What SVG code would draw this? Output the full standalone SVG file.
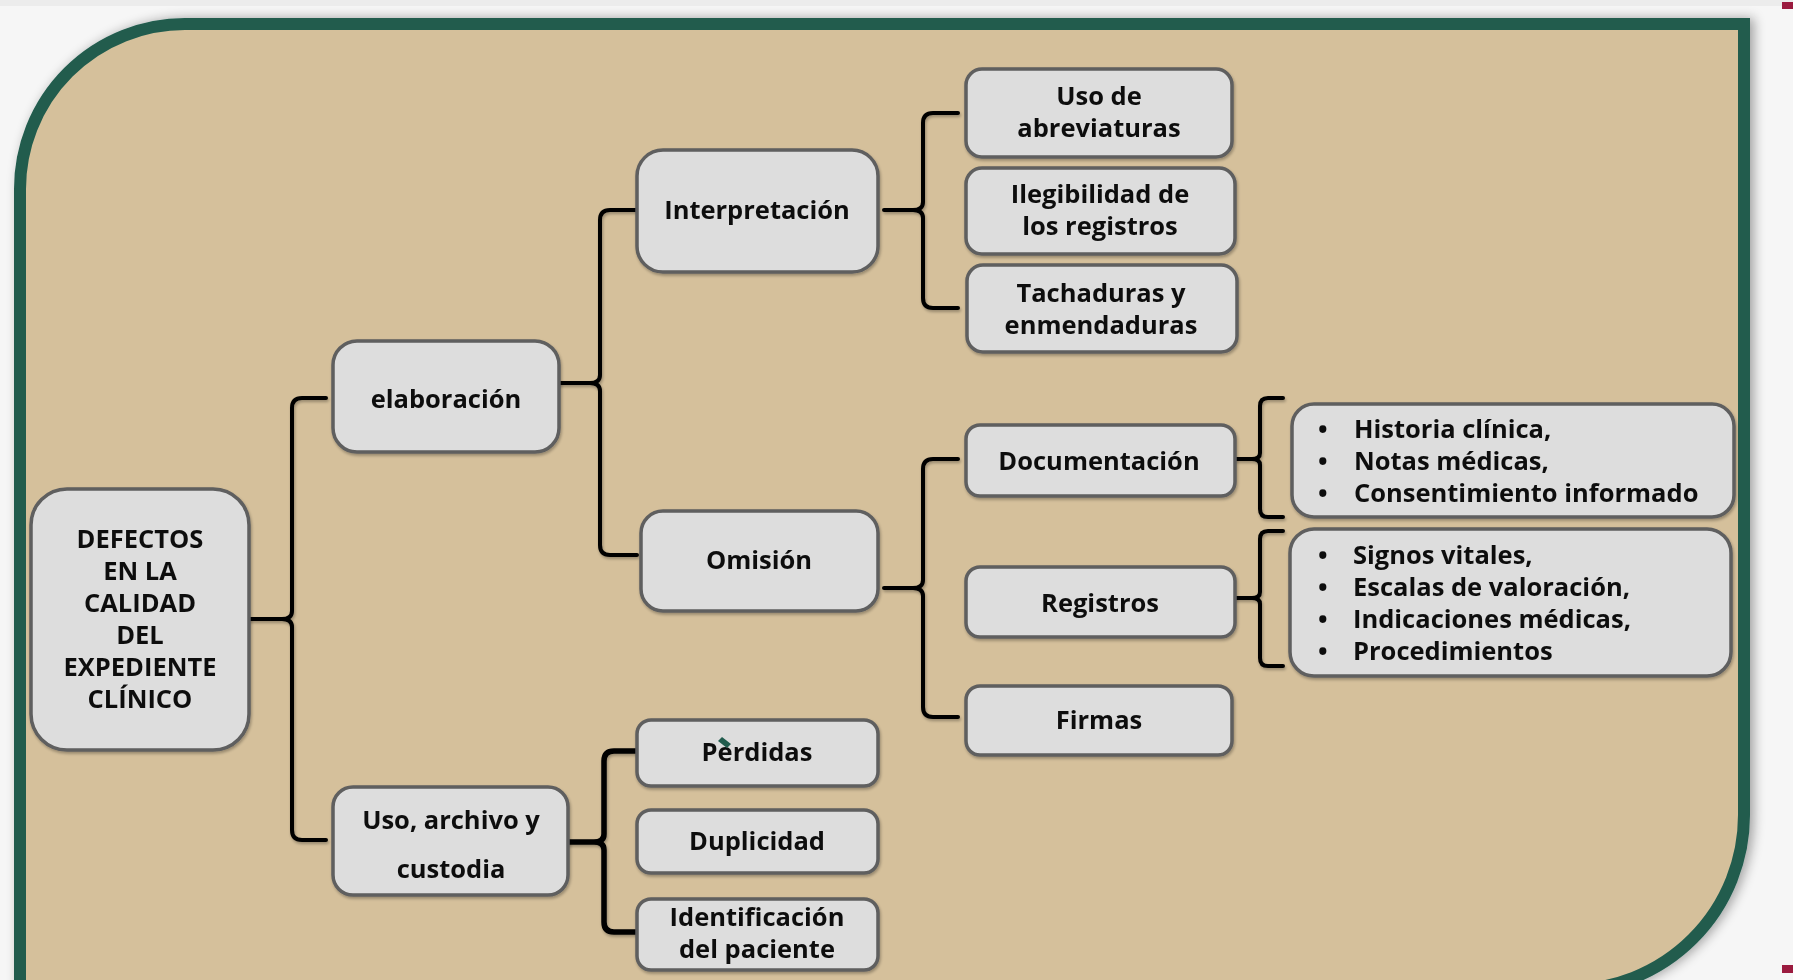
<svg xmlns="http://www.w3.org/2000/svg" width="1793" height="980" viewBox="0 0 1793 980">
<defs>
<style>
.bg{fill:#F6F6F6}
.frame{fill:#D5C09B;stroke:#215C4E;stroke-width:12}
.node rect{fill:#DDDDDD;stroke:#5E5E5E;stroke-width:3.5}
.t{font-family:"Open Sans",Lato,"Liberation Sans",sans-serif;font-weight:700;font-size:25.5px;fill:#111;text-anchor:middle}
.l{font-family:"Open Sans",Lato,"Liberation Sans",sans-serif;font-weight:700;font-size:25.5px;fill:#111}
.conn path{fill:none;stroke:#000;stroke-width:4;stroke-linecap:round;stroke-linejoin:round}
.mark{fill:#215C4E}
</style>
<filter id="fs" x="-5%" y="-5%" width="110%" height="110%">
<feGaussianBlur in="SourceAlpha" stdDeviation="6"/>
<feOffset dx="4" dy="0" result="b"/>
<feComponentTransfer><feFuncA type="linear" slope="0.35"/></feComponentTransfer>
<feMerge><feMergeNode/><feMergeNode in="SourceGraphic"/></feMerge>
</filter>
<filter id="ns" x="-10%" y="-10%" width="120%" height="120%">
<feGaussianBlur in="SourceAlpha" stdDeviation="1.5"/>
<feOffset dx="1" dy="2"/>
<feComponentTransfer><feFuncA type="linear" slope="0.3"/></feComponentTransfer>
<feMerge><feMergeNode/><feMergeNode in="SourceGraphic"/></feMerge>
</filter>
</defs>
<rect class="bg" x="0" y="0" width="1793" height="980"/>
<rect x="0" y="0" width="1793" height="6" fill="#ECECEC"/>
<path class="frame" filter="url(#fs)" d="M185,24 H1744 V815 A175,175 0 0 1 1569,990 H20 V189 A165,165 0 0 1 185,24 Z"/>
<rect x="1782" y="2" width="11" height="7" fill="#9B1B3F"/>
<rect x="1782" y="965" width="11" height="8" fill="#9B1B3F"/>

<g class="conn" filter="url(#ns)">
<path d="M249,619 H282 M326,398 H302 Q292,398 292,408 V611 Q292,619 282,619 Q292,619 292,627 V830 Q292,840 302,840 H326"/>
<path d="M559,383 H590 M637,210 H610 Q600,210 600,220 V375 Q600,383 590,383 Q600,383 600,391 V545 Q600,555 610,555 H637"/>
<path d="M884,210 H913 M958,113 H933 Q923,113 923,123 V202 Q923,210 913,210 Q923,210 923,218 V298 Q923,308 933,308 H958"/>
<path d="M884,588 H913 M958,459 H933 Q923,459 923,469 V580 Q923,588 913,588 Q923,588 923,596 V707 Q923,717 933,717 H958"/>
<path style="stroke-width:5.5" d="M568,842 H594 M637,751 H614 Q604,751 604,761 V834 Q604,842 594,842 Q604,842 604,850 V922 Q604,932 614,932 H637"/>
<path d="M1235,459 H1252 M1283,398 H1268 Q1260,398 1260,406 V453 Q1260,459 1252,459 Q1260,459 1260,465 V509 Q1260,517 1268,517 H1283"/>
<path d="M1235,598 H1252 M1283,531 H1268 Q1260,531 1260,539 V592 Q1260,598 1252,598 Q1260,598 1260,604 V658 Q1260,666 1268,666 H1283"/>
</g>

<g id="root" class="node" filter="url(#ns)">
<rect x="31" y="489" width="218" height="261" rx="36"/>
<text class="t" x="140" y="548">DEFECTOS</text>
<text class="t" x="140" y="580">EN LA</text>
<text class="t" x="140" y="612">CALIDAD</text>
<text class="t" x="140" y="644">DEL</text>
<text class="t" x="140" y="676">EXPEDIENTE</text>
<text class="t" x="140" y="708">CLÍNICO</text>
</g>
<g id="elaboracion" class="node" filter="url(#ns)">
<rect x="333" y="341" width="226" height="111" rx="24"/>
<text class="t" x="446" y="408">elaboración</text>
</g>
<g id="uso" class="node" filter="url(#ns)">
<rect x="333" y="787" width="235" height="108" rx="20"/>
<text class="t" x="451" y="829">Uso, archivo y</text>
<text class="t" x="451" y="878">custodia</text>
</g>
<g id="interpretacion" class="node" filter="url(#ns)">
<rect x="637" y="150" width="241" height="122" rx="26"/>
<text class="t" x="757" y="219">Interpretación</text>
</g>
<g id="omision" class="node" filter="url(#ns)">
<rect x="641" y="511" width="237" height="100" rx="22"/>
<text class="t" x="759" y="569">Omisión</text>
</g>
<g id="perdidas" class="node" filter="url(#ns)">
<rect x="637" y="720" width="241" height="66" rx="14"/>
<text class="t" x="757" y="761">Perdidas</text>
<path class="mark" d="M718,741 L722,737 L731,744 L727,748 Z"/>
</g>
<g id="duplicidad" class="node" filter="url(#ns)">
<rect x="637" y="810" width="241" height="63" rx="14"/>
<text class="t" x="757" y="850">Duplicidad</text>
</g>
<g id="identificacion" class="node" filter="url(#ns)">
<rect x="637" y="899" width="241" height="71" rx="14"/>
<text class="t" x="757" y="926">Identificación</text>
<text class="t" x="757" y="958">del paciente</text>
</g>
<g id="abreviaturas" class="node" filter="url(#ns)">
<rect x="966" y="69" width="266" height="88" rx="16"/>
<text class="t" x="1099" y="105">Uso de</text>
<text class="t" x="1099" y="137">abreviaturas</text>
</g>
<g id="ilegibilidad" class="node" filter="url(#ns)">
<rect x="966" y="168" width="269" height="86" rx="16"/>
<text class="t" x="1100" y="203">Ilegibilidad de</text>
<text class="t" x="1100" y="235">los registros</text>
</g>
<g id="tachaduras" class="node" filter="url(#ns)">
<rect x="967" y="265" width="270" height="87" rx="16"/>
<text class="t" x="1101" y="302">Tachaduras y</text>
<text class="t" x="1101" y="334">enmendaduras</text>
</g>
<g id="documentacion" class="node" filter="url(#ns)">
<rect x="966" y="425" width="269" height="71" rx="14"/>
<text class="t" x="1099" y="470">Documentación</text>
</g>
<g id="registros" class="node" filter="url(#ns)">
<rect x="966" y="567" width="269" height="70" rx="14"/>
<text class="t" x="1100" y="612">Registros</text>
</g>
<g id="firmas" class="node" filter="url(#ns)">
<rect x="966" y="686" width="266" height="69" rx="14"/>
<text class="t" x="1099" y="729">Firmas</text>
</g>
<g id="lista-documentacion" class="node" filter="url(#ns)">
<rect x="1292" y="404" width="442" height="113" rx="22"/>
<text class="l" x="1318" y="438">•</text><text class="l" x="1354" y="438">Historia clínica,</text>
<text class="l" x="1318" y="470">•</text><text class="l" x="1354" y="470">Notas médicas,</text>
<text class="l" x="1318" y="502">•</text><text class="l" x="1354" y="502">Consentimiento informado</text>
</g>
<g id="lista-registros" class="node" filter="url(#ns)">
<rect x="1290" y="529" width="441" height="147" rx="24"/>
<text class="l" x="1318" y="564">•</text><text class="l" x="1353" y="564">Signos vitales,</text>
<text class="l" x="1318" y="596">•</text><text class="l" x="1353" y="596">Escalas de valoración,</text>
<text class="l" x="1318" y="628">•</text><text class="l" x="1353" y="628">Indicaciones médicas,</text>
<text class="l" x="1318" y="660">•</text><text class="l" x="1353" y="660">Procedimientos</text>
</g>
</svg>
